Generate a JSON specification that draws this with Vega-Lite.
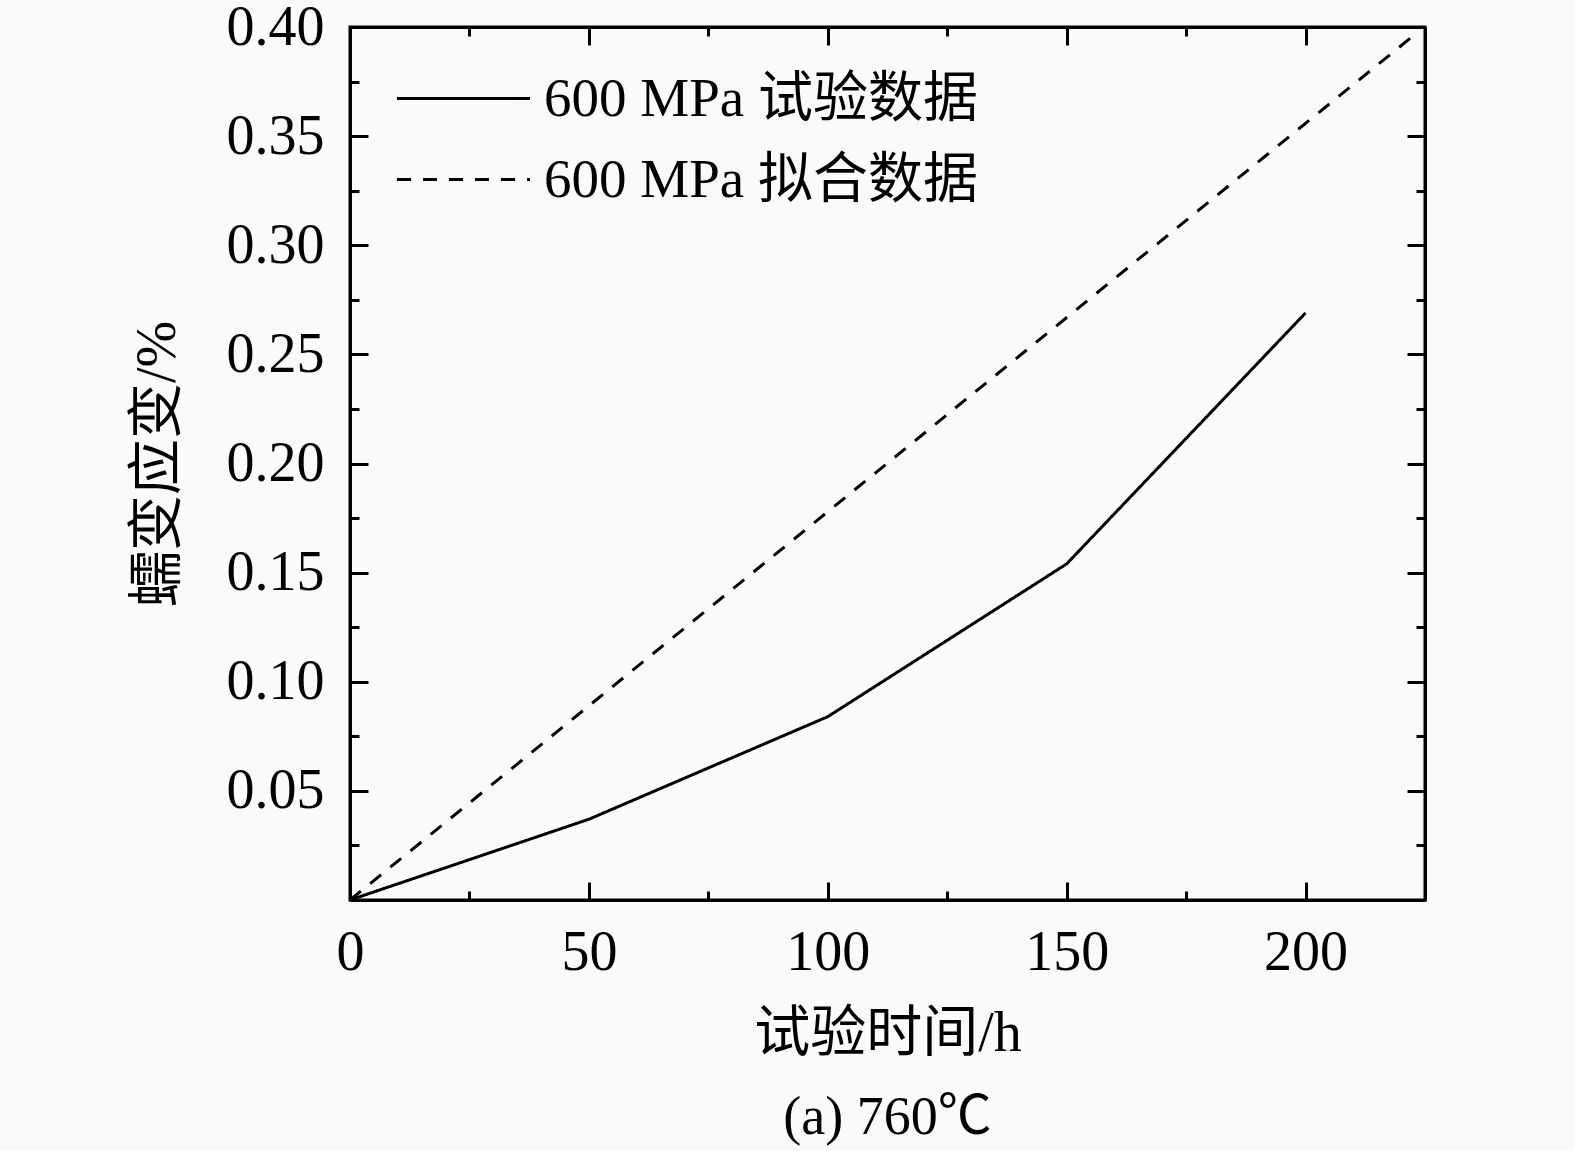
{
  "$schema": "https://vega.github.io/schema/vega-lite/v6.json",
  "autosize": "none",
  "width": 1075,
  "height": 873,
  "padding": {"left": 350, "top": 27, "right": 150, "bottom": 251},
  "background": "#fafafa",
  "config": {
    "font": "Liberation Serif, Noto Sans CJK SC",
    "view": {"stroke": "black", "strokeWidth": 3},
    "axis": {
      "domainColor": "black",
      "domainWidth": 3,
      "tickColor": "black",
      "tickWidth": 3,
      "grid": false,
      "labelFont": "Liberation Serif",
      "labelFontSize": 56,
      "labelColor": "black",
      "titleFont": "Liberation Serif, Noto Sans CJK SC",
      "titleFontSize": 56,
      "titleFontWeight": "normal",
      "titleColor": "black"
    }
  },
  "data": {
    "values": [
      {"t": 0, "strain": 0, "series": "600 MPa 试验数据"},
      {"t": 50, "strain": 0.037, "series": "600 MPa 试验数据"},
      {"t": 100, "strain": 0.084, "series": "600 MPa 试验数据"},
      {"t": 150, "strain": 0.154, "series": "600 MPa 试验数据"},
      {"t": 200, "strain": 0.269, "series": "600 MPa 试验数据"},
      {"t": 0, "strain": 0, "series": "600 MPa 拟合数据"},
      {"t": 222, "strain": 0.395, "series": "600 MPa 拟合数据"}
    ]
  },
  "title": {
    "text": "(a) 760℃",
    "orient": "bottom",
    "anchor": "middle",
    "offset": 30,
    "fontSize": 54,
    "fontWeight": "normal",
    "font": "Liberation Serif, Noto Sans CJK SC",
    "color": "black"
  },
  "layer": [
    {
      "mark": {"type": "line", "strokeWidth": 3, "color": "black"},
      "encoding": {
        "x": {
          "field": "t",
          "type": "quantitative",
          "scale": {"domain": [0, 225], "nice": false},
          "axis": {
            "orient": "bottom",
            "title": "试验时间/h",
            "titlePadding": 26,
            "values": [0, 25, 50, 75, 100, 125, 150, 175, 200, 225],
            "labelExpr": "datum.value % 50 === 0 ? datum.label : ''",
            "tickSize": {"condition": {"test": "datum.value % 50 === 0", "value": -18}, "value": -9},
            "labelPadding": 43,
            "labelFlush": false
          }
        },
        "y": {
          "field": "strain",
          "type": "quantitative",
          "scale": {"domain": [0, 0.4], "nice": false},
          "axis": {
            "orient": "left",
            "title": "蠕变应变/%",
            "titlePadding": 40,
            "values": [0, 0.025, 0.05, 0.075, 0.1, 0.125, 0.15, 0.175, 0.2, 0.225, 0.25, 0.275, 0.3, 0.325, 0.35, 0.375, 0.4],
            "format": ".2f",
            "labelExpr": "(round(datum.value * 40) % 2 === 0 && datum.value > 0) ? datum.label : ''",
            "tickSize": {"condition": {"test": "round(datum.value * 40) % 2 === 0", "value": -18}, "value": -9},
            "labelPadding": 44,
            "labelFlush": false
          }
        },
        "strokeDash": {
          "field": "series",
          "type": "nominal",
          "scale": {"domain": ["600 MPa 试验数据", "600 MPa 拟合数据"], "range": [[1, 0], [14, 12]]},
          "legend": {
            "title": null,
            "orient": "none",
            "legendX": 86,
            "legendY": 44,
            "symbolType": "M-3,0H3",
            "symbolSize": 1965,
            "symbolStrokeWidth": 3,
            "symbolStrokeColor": "black",
            "symbolFillColor": "transparent",
            "labelFont": "Liberation Serif, Noto Sans CJK SC",
            "labelFontSize": 55,
            "labelColor": "black",
            "labelOffset": 53,
            "labelLimit": 700,
            "rowPadding": 25,
            "padding": 0
          }
        }
      }
    },
    {
      "mark": {"type": "line", "opacity": 0},
      "encoding": {
        "x": {
          "field": "t",
          "type": "quantitative",
          "axis": {
            "orient": "top",
            "title": null,
            "labels": false,
            "values": [0, 25, 50, 75, 100, 125, 150, 175, 200, 225],
            "tickSize": {"condition": {"test": "datum.value % 50 === 0", "value": -18}, "value": -9}
          }
        },
        "y": {
          "field": "strain",
          "type": "quantitative",
          "axis": {
            "orient": "right",
            "title": null,
            "labels": false,
            "values": [0, 0.025, 0.05, 0.075, 0.1, 0.125, 0.15, 0.175, 0.2, 0.225, 0.25, 0.275, 0.3, 0.325, 0.35, 0.375, 0.4],
            "tickSize": {"condition": {"test": "round(datum.value * 40) % 2 === 0", "value": -18}, "value": -9}
          }
        }
      }
    }
  ],
  "resolve": {"axis": {"x": "independent", "y": "independent"}}
}
